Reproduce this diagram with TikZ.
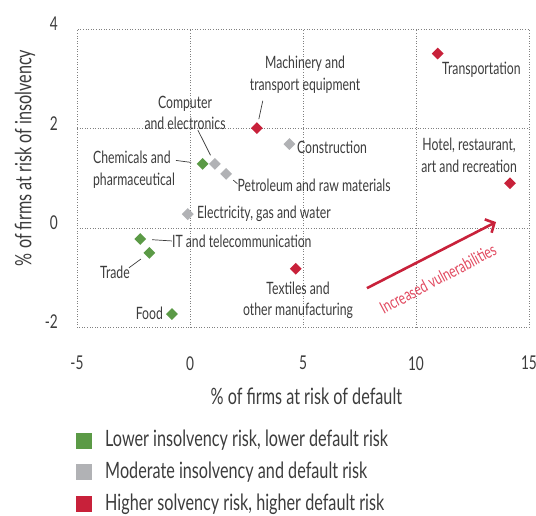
\documentclass[tikz,border=0pt]{standalone}
\usepackage{fontspec}
\setmainfont{Lato}[FakeStretch=0.72]
\usepackage{xcolor}
\usetikzlibrary{calc, positioning, arrows.meta, shapes.geometric}

\definecolor{grn}{HTML}{5B9A46}
\definecolor{gry}{HTML}{B1B2B5}
\definecolor{rd}{HTML}{C8213A}
\definecolor{pnk}{HTML}{E1495F}
\definecolor{txt}{HTML}{3C3C3C}

\tikzset{
    pt/.style={diamond, fill=#1, minimum width=12pt, minimum height=12pt, inner sep=0pt},
    lbl/.style={text=txt, font=\fontsize{17}{21.5}\selectfont, inner sep=0pt, align=center},
    tick/.style={text=txt, font=\fontsize{19}{21}\selectfont, inner sep=0pt},
    big/.style={text=txt, font=\fontsize{22.5}{25}\selectfont, inner sep=0pt},
    lead/.style={txt, line width=0.7pt},
    legbox/.style={fill=#1, minimum size=16pt, inner sep=0pt},
}

\begin{document}
\begin{tikzpicture}[x=22.6pt, y=49.7pt]
    \useasboundingbox (-8.407,-5.775) rectangle (15.31,4.588);

    % grid and frame
    \draw[gray, dotted, line width=0.6pt] (-5,-2) rectangle (15,4);
    \foreach \x in {0,5,10} {
        \draw[gray, dotted, line width=0.6pt] (\x,-2) -- (\x,4);
    }
    \foreach \y in {0,2} {
        \draw[gray, dotted, line width=0.6pt] (-5,\y) -- (15,\y);
    }

    % tick labels
    \foreach \x in {-5,0,5,10,15} {
        \node[tick] (xt\x) at (\x,-2.72) {\x};
    }
    \foreach \y in {-2,0,2,4} {
        \node[tick, anchor=east] (yt\y) at (-5.84,\y+0.11) {\y};
    }
    \node[big] (xlab) at (5.15,-3.39) {\% of firms at risk of default};
    \node[big, rotate=90] (ylab) at (-7.3,1.41) {\% of firms at risk of insolvency};

    % data points
    \foreach \n/\x/\y/\c in {transp/10.96/3.51/rd, mach/2.96/2.01/rd, comp/1.1/1.29/gry,
        chem/0.56/1.29/grn, petro/1.6/1.09/gry, constr/4.4/1.69/gry, hotel/14.16/0.9/rd,
        elec/-0.1/0.28/gry, it/-2.2/-0.22/grn, trade/-1.8/-0.5/grn, food/-0.8/-1.73/grn,
        textil/4.68/-0.82/rd} {
        \node[pt=\c] (\n) at (\x,\y) {};
    }

    % labels
    \node[lbl, anchor=west] (transpL) at (11.15,3.18) {Transportation};
    \node[lbl] (machL) at (5.09,3.09) {Machinery and\\transport equipment};
    \node[lbl] (compL) at (-0.22,2.32) {Computer\\and electronics};
    \node[lbl, anchor=east, align=left] (chemL) at (-0.66,1.17) {Chemicals and\\pharmaceutical};
    \node[lbl, anchor=west] (petroL) at (2.1,0.85) {Petroleum and raw materials};
    \node[lbl, anchor=west] (constrL) at (4.73,1.63) {Construction};
    \node[lbl] (hotelL) at (12.35,1.46) {Hotel, restaurant,\\art and recreation};
    \node[lbl, anchor=west] (elecL) at (0.31,0.28) {Electricity, gas and water};
    \node[lbl, anchor=west] (itL) at (-0.8,-0.26) {IT and telecommunication};
    \node[lbl] (tradeL) at (-3.32,-0.9) {Trade};
    \node[lbl, anchor=east] (foodL) at (-1.19,-1.71) {Food};
    \node[lbl] (textilL) at (4.78,-1.45) {Textiles and\\other manufacturing};

    % leader lines
    \coordinate (machT) at (3.22,2.56);
    \coordinate (compT) at (0.35,1.97);
    \coordinate (chemT) at (-0.62,1.36);
    \coordinate (petroT) at (2.1,0.89);
    \coordinate (tradeT) at (-2.7,-0.8);
    \draw[lead, shorten <=4pt] (mach) -- (machT);
    \draw[lead, shorten <=5pt] (comp) -- (compT);
    \draw[lead, shorten <=6pt] (chem) -- (chemT);
    \draw[lead, shorten <=5pt] (petro) -- (petroT);
    \draw[lead, shorten <=6pt] (it) -- (itL.west);
    \draw[lead, shorten <=6pt] (trade) -- (tradeT);

    % vulnerability arrow
    \coordinate (arrS) at (7.83,-1.21);
    \coordinate (arrE) at (13.54,0.12);
    \draw[rd, line width=2.6pt, -{Straight Barb[length=7pt, width=15pt]}] (arrS) -- (arrE);
    \node[lbl, text=pnk, rotate=28] (arrL) at (10.97,-1.02) {Increased vulnerabilities};

    % legend
    \foreach \c/\y/\t in {grn/-4.276/{Lower insolvency risk, lower default risk},
        gry/-4.909/{Moderate insolvency and default risk},
        rd/-5.553/{Higher solvency risk, higher default risk}} {
        \node[legbox=\c] (leg\c) at (-4.69,\y) {};
        \node[big, anchor=west] (leg\c T) at (-3.76,\y) {\t};
    }
\end{tikzpicture}
\end{document}
